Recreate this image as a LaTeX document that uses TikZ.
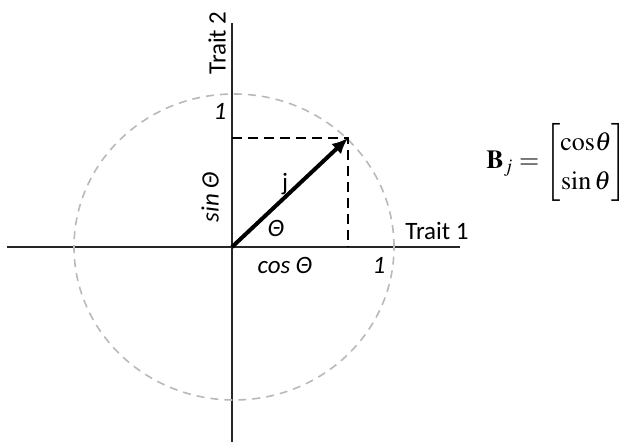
\documentclass[tikz,border=0pt]{standalone}
\usepackage{amsmath}
\usepackage{mathptmx}
\usepackage[no-math]{fontspec}
\newfontfamily\calib{Carlito}
\usetikzlibrary{arrows.meta, positioning}
\definecolor{circgray}{RGB}{185,185,185}

\begin{document}
\begin{tikzpicture}[x=0.5pt, y=0.5pt,
  axis/.style={line width=1.4pt, black!85},
  unitcirc/.style={line width=0.8pt, circgray, dash pattern=on 4pt off 3pt},
  proj/.style={line width=1pt, dash pattern=on 5pt off 3pt},
  vec/.style={line width=2pt, -{Latex[length=8pt, width=7pt]}},
  lbl/.style={font=\calib\fontsize{12.5}{14}\selectfont, inner sep=0pt},
  ilbl/.style={lbl, font=\calib\itshape\fontsize{12.5}{14}\selectfont}]
  \useasboundingbox (-232,-195) rectangle (394,247);
  % axes
  \coordinate (O) at (0,0);
  \coordinate (xl) at (-225,0); \coordinate (xr) at (228,0);
  \coordinate (yb) at (0,-196); \coordinate (yt) at (0,224);
  \draw[axis] (xl) -- (xr);
  \draw[axis] (yb) -- (yt);
  % unit circle
  \draw[unitcirc] (2,0) ellipse [x radius=160, y radius=153];
  % vector j and its projections
  \coordinate (P) at (116,109);
  \draw[proj] (O |- P) -- (P) -- (P |- O);
  \draw[vec] (O) -- (P);
  % labels
  \node[lbl] (trait1) at (205,16) {Trait 1};
  \node[lbl, rotate=90] (trait2) at (-15,204) {Trait 2};
  \node[ilbl] (onex) at (147,-18) {1};
  \node[ilbl] (oney) at (-12,136) {1};
  \node[ilbl] (cosT) at (53,-18) {cos Θ};
  \node[ilbl, rotate=90] (sinT) at (-22,50) {sin Θ};
  \node[lbl] (jlab) at (53,63) {j};
  \node[ilbl] (theta) at (44,19) {Θ};
  \node[anchor=west, inner sep=0pt, font=\fontsize{13}{15.5}\selectfont] (Bj) at (254,85)
    {\arraycolsep=2pt\renewcommand\arraystretch{1.25}%
     $\mathbf{B}_j = \begin{bmatrix}\mathrm{cos}\theta\\ \mathrm{sin}\,\theta\end{bmatrix}$};
\end{tikzpicture}
\end{document}
